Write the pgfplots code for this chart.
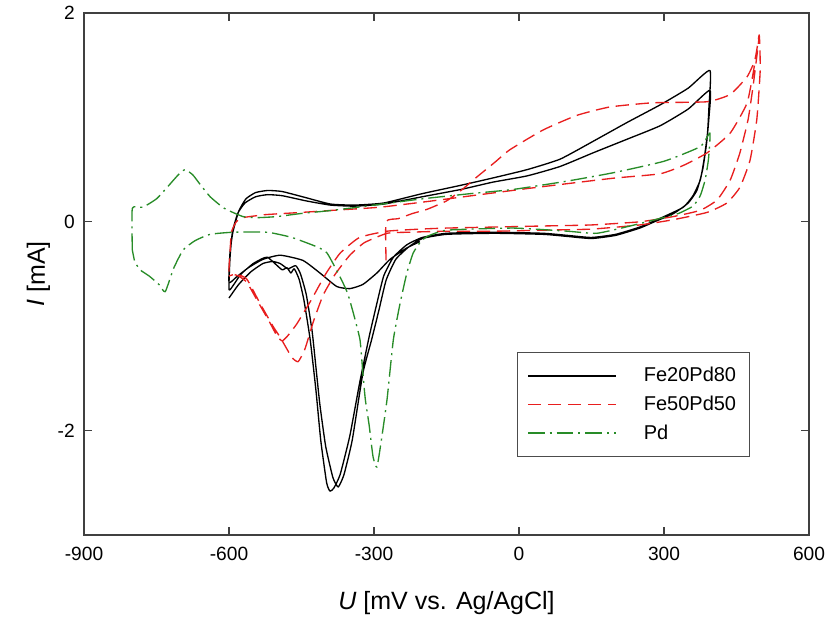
\documentclass[border=0pt]{standalone}
\usepackage{fontspec}
\setmainfont{Liberation Sans}
\usepackage{pgfplots}
\pgfplotsset{compat=1.18}
\definecolor{cvred}{RGB}{232,30,30}
\definecolor{cvgreen}{RGB}{40,140,40}
\begin{document}
\begin{tikzpicture}
\begin{axis}[
  name=ax,
  scale only axis,
  width=435pt, height=313.2pt,
  xmin=-900, xmax=600, ymin=-3, ymax=2,
  xtick={-900,-600,-300,0,300,600},
  ytick={-2,0,2},
  tick align=inside,
  tick pos=both,
  axis line style={black!75, line width=0.9pt},
  tick style={black!75, line width=0.8pt},
  major tick length=5pt,
  /pgf/number format/assume math mode=true,
  tick label style={font=\fontsize{11.5}{13}\selectfont},
  xticklabel style={yshift=-4pt},
  yticklabel style={xshift=-2pt},
  xlabel={\textit{U} [mV vs. Ag/AgCl]},
  ylabel={\textit{I} [mA]},
  label style={font=\fontsize{15}{17}\selectfont},
  xlabel style={at={(axis description cs:0.5,-0.13)}, anchor=center},
  ylabel style={at={(axis description cs:-0.063,0.5)}, anchor=center},
  legend cell align=left,
  legend style={at={(rel axis cs:0.597,0.351)}, anchor=north west,
    draw=black!70, line width=0.6pt, font=\fontsize{12}{14}\selectfont,
    inner xsep=6pt, inner ysep=7pt, row sep=3pt,
    /tikz/every odd column/.append style={column sep=14pt}},
  legend image code/.code={\draw[#1, line width=0.9pt] (0pt,0pt) -- (53pt,0pt);},
  every axis plot/.append style={line width=0.8pt, line join=round, smooth, tension=0.3},
]
% Fe20Pd80
\addplot[draw=black] coordinates {
(-205,-0.19) (-232,-0.25) (-267,-0.36) (-294,-0.49) (-323,-0.60) (-350,-0.64) (-377,-0.62) (-412,-0.49) (-447,-0.37) (-494,-0.32) (-530,-0.36) (-560,-0.44) (-585,-0.53) (-600,-0.58)
(-598,-0.30) (-592,-0.10) (-580,0.10) (-565,0.22) (-545,0.28) (-520,0.30) (-490,0.29) (-440,0.23) (-390,0.17) (-340,0.16) (-280,0.18) (-200,0.27) (-120,0.35) (-54,0.42) (17,0.50) (85,0.60) (153,0.77) (223,0.95) (292,1.12) (350,1.28) (395,1.45)
(393,1.10) (390,0.85) (383,0.60) (375,0.40) (360,0.25) (340,0.14) (300,0.05) (250,-0.05) (200,-0.12) (150,-0.15) (100,-0.13) (50,-0.11) (-50,-0.10) (-150,-0.11) (-200,-0.15) (-232,-0.22) (-260,-0.34) (-280,-0.52) (-295,-0.80) (-310,-1.10) (-330,-1.55) (-350,-2.05) (-370,-2.42) (-383,-2.55) (-391,-2.58) (-398,-2.50) (-410,-2.10) (-420,-1.62) (-432,-1.13) (-445,-0.75) (-455,-0.55) (-465,-0.45) (-472,-0.49) (-480,-0.44) (-490,-0.46) (-505,-0.40) (-520,-0.34) (-530,-0.35) (-550,-0.40) (-575,-0.50) (-590,-0.60) (-600,-0.65)
(-598,-0.35) (-593,-0.10) (-582,0.08) (-567,0.18) (-545,0.24) (-520,0.26) (-490,0.25) (-440,0.20) (-390,0.16) (-340,0.15) (-280,0.17) (-200,0.24) (-120,0.31) (-54,0.38) (17,0.44) (85,0.53) (153,0.66) (223,0.79) (292,0.92) (350,1.08) (395,1.26)
(393,1.00) (388,0.75) (380,0.50) (368,0.30) (350,0.18) (320,0.08) (280,0.00) (250,-0.06) (200,-0.13) (150,-0.16) (100,-0.14) (50,-0.12) (-50,-0.11) (-150,-0.12) (-200,-0.16) (-228,-0.24) (-255,-0.36) (-275,-0.56) (-290,-0.85) (-305,-1.13) (-323,-1.45) (-345,-2.09) (-362,-2.42) (-374,-2.54) (-385,-2.45) (-400,-2.15) (-412,-1.75) (-420,-1.40) (-428,-1.05) (-440,-0.70) (-452,-0.50) (-462,-0.42) (-478,-0.45) (-494,-0.40) (-510,-0.38) (-530,-0.40) (-555,-0.48) (-580,-0.60) (-600,-0.73)
};
\addlegendentry{Fe20Pd80}
% Fe50Pd50
\addplot[draw=cvred, dash pattern=on 8pt off 4pt] coordinates {
(-275,-0.37) (-275,0.00) (-250,0.03) (-220,0.08) (-190,0.12) (-150,0.20) (-120,0.30) (-87,0.43) (-50,0.57) (-19,0.69) (50,0.88) (120,1.02) (188,1.10) (277,1.14) (389,1.15) (437,1.22) (472,1.39) (488,1.55) (497,1.79)
(493,1.62) (484,1.29) (474,0.98) (457,0.66) (437,0.40) (410,0.21) (375,0.11) (319,0.05) (250,0.00) (150,-0.03) (50,-0.04) (-50,-0.05) (-150,-0.06) (-205,-0.07) (-273,-0.09) (-330,-0.15) (-370,-0.30) (-400,-0.50) (-430,-0.75) (-460,-0.98) (-480,-1.10) (-490,-1.14) (-500,-1.10) (-515,-0.97) (-542,-0.75) (-563,-0.58) (-580,-0.52) (-592,-0.50) (-600,-0.48)
(-598,-0.30) (-595,-0.10) (-585,0.00) (-571,0.04) (-540,0.06) (-521,0.07) (-450,0.09) (-385,0.11) (-287,0.14) (-180,0.20) (-81,0.26) (20,0.32) (126,0.38) (200,0.42) (292,0.46) (340,0.54) (389,0.66) (437,0.85) (472,1.14) (488,1.52) (497,1.79)
(499,1.45) (492,0.98) (478,0.59) (457,0.33) (430,0.18) (389,0.09) (319,0.02) (250,-0.03) (150,-0.07) (50,-0.08) (-50,-0.09) (-150,-0.09) (-230,-0.10) (-273,-0.11) (-320,-0.20) (-350,-0.32) (-380,-0.50) (-405,-0.70) (-425,-0.95) (-443,-1.22) (-457,-1.34) (-470,-1.30) (-480,-1.22) (-495,-1.10) (-509,-1.00) (-536,-0.78) (-563,-0.55) (-585,-0.50) (-600,-0.52)
};
\addlegendentry{Fe50Pd50}
% Pd
\addplot[draw=cvgreen, dash pattern=on 10pt off 3pt on 1.2pt off 3pt] coordinates {
(-800,-0.27) (-800,0.13) (-778,0.14) (-750,0.22) (-728,0.33) (-705,0.45) (-691,0.50) (-675,0.45) (-660,0.36) (-639,0.24) (-610,0.13) (-571,0.05) (-540,0.04) (-501,0.05) (-450,0.08) (-385,0.11) (-300,0.16) (-200,0.22) (-100,0.27) (-12,0.31) (100,0.39) (195,0.47) (300,0.58) (375,0.72) (395,0.85)
(392,0.60) (385,0.40) (375,0.25) (360,0.15) (330,0.08) (298,0.04) (230,-0.04) (161,-0.11) (100,-0.09) (-12,-0.06) (-149,-0.08) (-190,-0.14) (-205,-0.20) (-219,-0.30) (-232,-0.49) (-246,-0.78) (-260,-1.13) (-273,-1.70) (-285,-2.10) (-294,-2.35) (-302,-2.25) (-310,-1.95) (-318,-1.70) (-323,-1.45) (-329,-1.13) (-343,-0.87) (-355,-0.68) (-370,-0.53) (-397,-0.30) (-418,-0.24) (-470,-0.15) (-521,-0.10) (-592,-0.10) (-639,-0.12) (-670,-0.18) (-695,-0.27) (-715,-0.45) (-732,-0.67) (-745,-0.60) (-765,-0.52) (-784,-0.46) (-795,-0.38) (-800,-0.27)
};
\addlegendentry{Pd}
\end{axis}
\pgfresetboundingbox
\path ([shift={(-50.4pt,-50.4pt)}]ax.south west) rectangle ([shift={(10.2pt,7.8pt)}]ax.north east);
\end{tikzpicture}
\end{document}
